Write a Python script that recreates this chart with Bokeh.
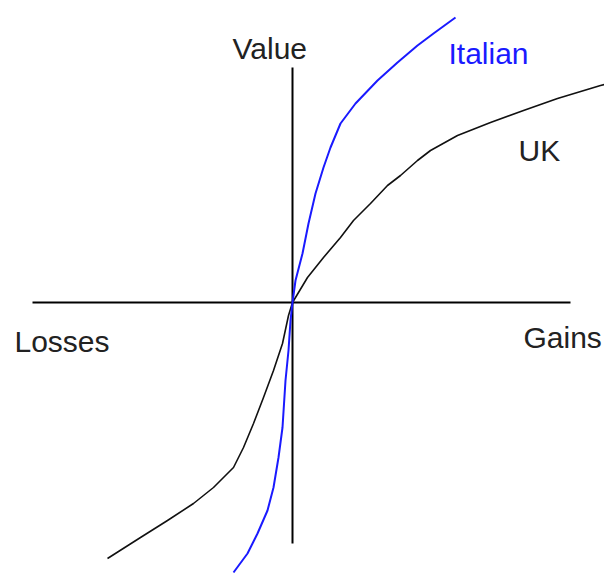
from bokeh.plotting import figure
from bokeh.models import Range1d
from bokeh.core.properties import value
from bokeh.embed import file_html
from bokeh.resources import INLINE

# Value-function curves, origin = reference point (gains to the right, value upward)
uk_x = [-185, -152, -125, -99, -79, -59, -49, -39, -29, -19, -10, -4, 0,
        15, 31, 48, 61, 78, 95, 108, 125, 138, 165, 198, 231, 265, 308, 312]
uk_y = [-256, -235, -218, -201, -185, -165, -145, -121, -95, -68, -41, -13, 0,
        25, 45, 65, 82, 99, 117, 127, 142, 152, 167, 180, 192, 204, 217, 218]

italian_x = [-59, -45, -35, -25, -19, -14, -10, -7, -4, -2, 0,
             3, 10, 16, 23, 31, 38, 48, 63, 85, 105, 125, 141, 163]
italian_y = [-270, -251, -231, -208, -185, -155, -125, -78, -48, -18, 0,
             22, 49, 79, 109, 135, 155, 179, 199, 222, 240, 257, 269, 285]

# Axis extents
h_axis_x = [-260, 278]
v_axis_y = [235, -241]

# Labels: (text, x, y, colour)
labels = [
    ("Value", -60, 254, "#222222"),
    ("Italian", 156, 249, "#1a1aff"),
    ("UK", 226, 152, "#222222"),
    ("Losses", -278, -39, "#222222"),
    ("Gains", 231, -35, "#222222"),
]

p = figure(width=604, height=574, output_backend="svg", toolbar_location=None,
           x_range=Range1d(-292, 312), y_range=Range1d(-272, 302),
           min_border=0, outline_line_color=None)
p.xaxis.visible = False
p.yaxis.visible = False
p.xgrid.visible = False
p.ygrid.visible = False
p.background_fill_color = "white"
p.border_fill_color = "white"

# Axes
p.line(h_axis_x, [0, 0], line_color="black", line_width=2)
p.line([0, 0], v_axis_y, line_color="black", line_width=2)

# Curves
p.line(uk_x, uk_y, line_color="#111111", line_width=1.6, line_join="round")
p.line(italian_x, italian_y, line_color="#1a1aff", line_width=2, line_join="round")

for txt, x, y, col in labels:
    p.text(x=[x], y=[y], text=[txt], text_color=col,
           text_font=value("Liberation Sans"), text_font_size="30px",
           text_align="left", text_baseline="alphabetic")

open("out.html", "w").write(file_html(p, INLINE))
